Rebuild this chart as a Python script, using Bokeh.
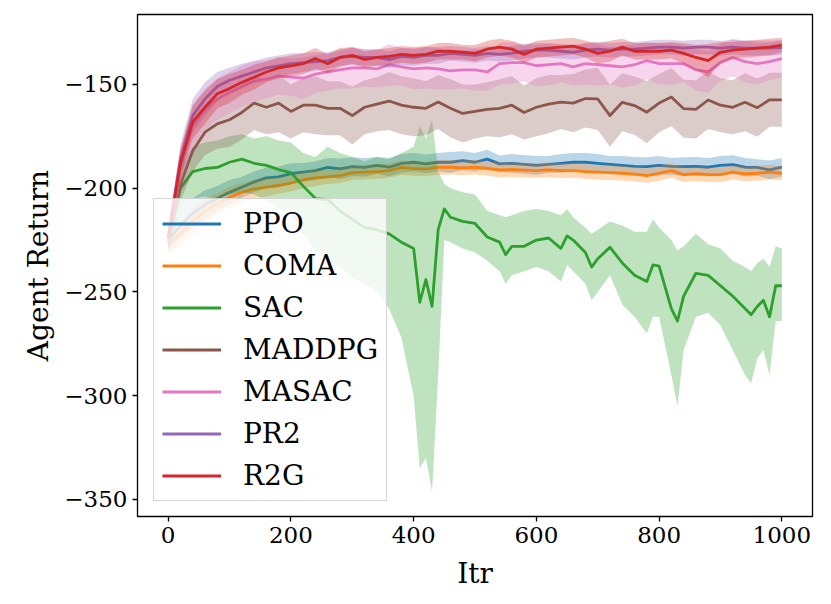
from bokeh.plotting import figure
from bokeh.models import Legend, LegendItem, FixedTicker, Range1d
from bokeh.embed import file_html
from bokeh.resources import INLINE

# ---------------- data ----------------
itr = [0, 20, 40, 60, 80, 100, 120, 140, 160, 180, 200, 220, 240, 260, 280, 300,
       320, 340, 360, 380, 400, 420, 440, 460, 480, 500, 520, 540, 560, 580, 600,
       620, 640, 660, 680, 700, 720, 740, 760, 780, 800, 820, 840, 860, 880, 900,
       920, 940, 960, 980, 1000]

ppo_mean = [-225, -218, -212, -208, -205, -202, -199.5, -197, -195, -194.5, -193,
            -192.3, -191.5, -190, -190.7, -189.6, -190, -189, -189.9, -188, -187.5,
            -188.3, -187.5, -187.5, -186.7, -187.5, -186, -188.3, -188, -188.5, -189,
            -188.5, -188, -187.5, -187.5, -188, -188.5, -189, -189.5, -189.6, -189,
            -189.5, -189.6, -189.5, -189.9, -189, -188.6, -189.9, -190, -191.2, -189.9]
ppo_std = [5, 6, 7, 7, 6, 6, 5, 5, 5, 5, 5, 4.5, 4.5, 4.5, 5, 4.5, 4.5, 4, 4.5, 4.5,
           4.5, 4.5, 4.5, 5, 4.5, 4.5, 4.5, 4, 4.5, 4.5, 4.5, 4, 4.5, 4.5, 4.5, 4.5,
           4, 4.5, 4.5, 4.5, 4.5, 4, 4.5, 4.5, 4.5, 4.5, 4.5, 4.5, 4, 4.5, 4.5]

coma_mean = [-227, -222, -216, -211, -207.4, -204.3, -202, -200.3, -199.5, -198.7,
             -197.5, -196, -195, -194.5, -194, -192.5, -192.3, -192, -191.5, -190,
             -190.5, -190.7, -190, -189.9, -190.2, -189.9, -190.5, -191.2, -191, -191.3,
             -191.5, -191.2, -191.5, -191.5, -192, -192.3, -192.5, -192.8, -193.2, -193.9,
             -192.8, -191.5, -193.5, -193, -193.5, -193.5, -192.3, -193.1, -192.8, -192.3,
             -192.8]
coma_std = [5, 6, 6, 6, 5, 5, 4.5, 4.5, 4.5, 4, 4, 4, 4, 3.5, 3.5, 3.5, 3.5, 3.5, 3.5,
            3.5, 3.5, 3.5, 3.5, 3.5, 3.5, 3.5, 3.5, 3.5, 3.5, 3.5, 3.5, 3.5, 3.5, 3.5,
            3.5, 3.5, 3.5, 3.5, 3.5, 3.5, 3.5, 3.5, 3.5, 3.5, 3.5, 3.5, 3.5, 3.5, 3.5,
            3.5, 3.5]

sac_itr = [0, 10, 20, 40, 60, 80, 100, 120, 140, 160, 180, 200, 220, 240, 260, 280,
           300, 320, 340, 360, 380, 400, 410, 420, 430, 440, 450, 460, 480, 500, 520,
           540, 550, 560, 580, 600, 620, 640, 650, 660, 680, 690, 700, 720, 740, 760,
           780, 790, 800, 820, 830, 840, 860, 880, 900, 920, 940, 950, 960, 970, 980,
           990, 1000]
sac_mean = [-225, -212, -200, -192, -190.5, -190, -187.5, -186, -188, -189, -191,
            -192.5, -199, -205, -205.5, -211, -215, -219, -220, -222, -226, -229,
            -255, -244, -257, -220, -210, -214, -216, -217, -223.5, -226, -232, -228,
            -228, -225, -224, -229, -223, -225, -231, -238, -234, -228.5, -236, -242,
            -245, -237, -237.5, -258, -264, -252, -241, -242, -247, -252, -258, -261,
            -257, -254, -262, -247, -247]
sac_hi = [-220, -205, -190, -180, -178, -177, -175, -174, -176, -175, -177, -178,
          -183, -185, -180, -183, -185, -187, -185, -186, -183, -180, -170, -176,
          -167, -192, -198, -200, -202, -203, -211, -213, -214, -213, -211, -210,
          -211, -213, -210, -214, -219, -222, -220, -216, -218, -221, -221, -215,
          -219, -225, -230, -228, -222, -227, -229, -235, -238, -240, -236, -234,
          -238, -228, -229]
sac_lo = [-230, -220, -212, -205, -204, -205, -203, -202, -203, -206, -210, -213,
          -222, -230, -235, -238, -243, -246, -250, -258, -272, -300, -335, -330,
          -346, -290, -225, -226, -229, -231, -235, -240, -246, -242, -240, -238,
          -240, -245, -237, -240, -246, -254, -250, -242, -256, -262, -270, -262,
          -262, -290, -305, -278, -262, -260, -266, -278, -290, -294, -282, -278,
          -290, -264, -264]

maddpg_mean = [-226, -198, -182, -173, -169, -167, -163.5, -159, -161, -159, -163,
               -160, -160, -161.5, -161.5, -165, -161, -159.5, -158, -160, -161,
               -161.5, -158.5, -161.5, -164, -163, -162, -161.5, -160, -163.5, -161,
               -159.5, -158.5, -159, -156.8, -157, -165, -158.6, -160.2, -163.4, -159,
               -156.1, -161.7, -162, -157.5, -160, -161, -158.6, -161.2, -157.4, -157.4]
maddpg_std = [5, 8, 10, 11, 12, 13, 13, 13, 13, 14, 13, 13, 14, 13, 13, 14, 13, 13,
              14, 14, 14, 13, 13, 14, 14, 13, 13, 14, 14, 13, 14, 14, 13, 14, 14, 15,
              15, 14, 14, 15, 14, 14, 14, 14, 14, 13, 13, 14, 14, 13, 13]

masac_mean = [-226, -190, -170, -162, -157, -154, -151, -148.5, -147.5, -146, -146.5,
              -147, -145, -144, -143, -142, -142, -142.5, -140.5, -141.5, -142.5, -142,
              -142.5, -143.5, -143, -143, -144, -140, -139.5, -139.5, -141, -140.5, -140,
              -141.5, -140, -140.5, -141, -141.5, -140.5, -138.5, -140, -140, -140, -143,
              -144, -139.5, -137, -139, -140, -139, -137.6]
masac_std = [5, 8, 10, 10, 10, 10, 10, 10, 9, 9, 9, 10, 9, 9, 9, 10, 9, 9, 10, 9, 10,
             10, 10, 9, 9, 10, 9, 10, 10, 9, 10, 10, 9, 9, 10, 10, 9, 10, 10, 9, 10,
             10, 9, 10, 10, 9, 9, 10, 10, 9, 9]

pr2_mean = [-224, -186, -165, -157, -151, -148, -146, -144, -142, -141, -140, -139.5,
            -139, -138.5, -137, -136.5, -137, -137, -138, -136.5, -137, -136, -136,
            -135, -135.5, -136, -135, -135.5, -135, -134, -133.5, -133.5, -134, -134.5,
            -133.5, -133, -133.5, -133, -133, -132.5, -132, -132, -132.5, -132, -132,
            -132.5, -132, -132.5, -132.5, -132.5, -132.3]
pr2_std = [5, 7, 8, 8, 7, 6, 6, 5, 5, 5, 5, 4.5, 4.5, 4, 4, 4, 4, 4, 4, 4, 4, 4, 4,
           3.5, 3.5, 3.5, 3.5, 3.5, 3.5, 3.5, 3.5, 3.5, 3.5, 3.5, 3.5, 3.5, 3.5, 3.5,
           3.5, 3.5, 3.5, 3.5, 3.5, 3.5, 3.5, 3.5, 3.5, 3.5, 3.5, 3.5, 3.5]

r2g_mean = [-224, -188, -168, -161, -154.5, -152, -149, -146.5, -144, -142, -141,
            -140, -137.5, -140, -137, -136, -138, -137, -136.5, -135.5, -136, -135.5,
            -134, -134, -134.5, -135, -133, -132, -133, -135.5, -133, -132.5, -132,
            -131.5, -133, -135, -134, -132, -134, -134, -134, -133.5, -135, -137,
            -138.5, -134.5, -133.5, -133, -132.5, -132, -131]
r2g_std = [5, 7, 8, 8, 7, 7, 6, 6, 5, 5, 5, 5, 5, 4.5, 4.5, 4, 4, 4, 4, 4, 4, 4, 4, 4,
           3.5, 4, 4, 4, 4, 4, 4, 4, 4, 4, 4, 5, 5, 4, 4, 4, 4, 4, 5, 6, 8, 5, 4, 4,
           4, 4, 3.5]

x_ticks = [0, 200, 400, 600, 800, 1000]
x_tick_labels = ["0", "200", "400", "600", "800", "1000"]
y_ticks = [-350, -300, -250, -200, -150]
y_tick_labels = ["\u2212350", "\u2212300", "\u2212250", "\u2212200", "\u2212150"]

# ---------------- figure ----------------
FONT = "DejaVu Serif"
p = figure(width=831, height=604, output_backend="svg", toolbar_location=None,
           x_range=Range1d(-50, 1050), y_range=Range1d(-358.2, -116.3),
           min_border_left=137, min_border_right=19, min_border_top=14,
           min_border_bottom=88)
p.grid.visible = False
p.outline_line_color = "black"
p.outline_line_width = 1.3
p.outline_line_alpha = 1.0
p.background_fill_color = "white"
p.border_fill_color = "white"

series = [
    ("PPO", itr, ppo_mean, [m - s for m, s in zip(ppo_mean, ppo_std)],
     [m + s for m, s in zip(ppo_mean, ppo_std)], "#1f77b4"),
    ("COMA", itr, coma_mean, [m - s for m, s in zip(coma_mean, coma_std)],
     [m + s for m, s in zip(coma_mean, coma_std)], "#ff7f0e"),
    ("SAC", sac_itr, sac_mean, sac_lo, sac_hi, "#2ca02c"),
    ("MADDPG", itr, maddpg_mean, [m - s for m, s in zip(maddpg_mean, maddpg_std)],
     [m + s for m, s in zip(maddpg_mean, maddpg_std)], "#8c564b"),
    ("MASAC", itr, masac_mean, [m - s for m, s in zip(masac_mean, masac_std)],
     [m + s for m, s in zip(masac_mean, masac_std)], "#e377c2"),
    ("PR2", itr, pr2_mean, [m - s for m, s in zip(pr2_mean, pr2_std)],
     [m + s for m, s in zip(pr2_mean, pr2_std)], "#9467bd"),
    ("R2G", itr, r2g_mean, [m - s for m, s in zip(r2g_mean, r2g_std)],
     [m + s for m, s in zip(r2g_mean, r2g_std)], "#d62728"),
]

items = []
for name, xs, mean, lo, hi, col in series:
    p.varea(x=xs, y1=lo, y2=hi, fill_color=col, fill_alpha=0.3)
    r = p.line(xs, mean, line_color=col, line_width=2.8, line_join="round")
    items.append(LegendItem(label=name, renderers=[r]))

legend = Legend(items=items, location=(16, 15))
legend.label_text_font = FONT
legend.label_text_font_size = "28px"
legend.label_text_color = "black"
legend.glyph_width = 59
legend.glyph_height = 31
legend.label_height = 31
legend.label_standoff = 22
legend.spacing = 9
legend.padding = 8
legend.margin = 0
legend.background_fill_color = "white"
legend.background_fill_alpha = 0.8
legend.border_line_color = "#cccccc"
legend.border_line_alpha = 0.8
legend.border_line_width = 1.3
p.add_layout(legend, "center")

for ax in (p.xaxis[0], p.yaxis[0]):
    ax.axis_line_color = None
    ax.major_tick_line_color = "black"
    ax.major_tick_line_width = 1.3
    ax.major_tick_out = 5
    ax.major_tick_in = 0
    ax.minor_tick_line_color = None
    ax.major_label_text_font = FONT
    ax.major_label_text_font_size = "23px"
    ax.major_label_text_color = "black"
    ax.axis_label_text_font = FONT
    ax.axis_label_text_font_size = "28px"
    ax.axis_label_text_font_style = "normal"
    ax.axis_label_text_color = "black"

p.xaxis.ticker = FixedTicker(ticks=x_ticks)
p.yaxis.ticker = FixedTicker(ticks=y_ticks)
p.xaxis.major_label_overrides = dict(zip(x_ticks, x_tick_labels))
p.yaxis.major_label_overrides = dict(zip(y_ticks, y_tick_labels))
p.xaxis.axis_label = "Itr"
p.yaxis.axis_label = "Agent Return"
p.xaxis.major_label_standoff = 5
p.yaxis.major_label_standoff = 5
p.xaxis.axis_label_standoff = 11
p.yaxis.axis_label_standoff = 6

open("out.html", "w").write(file_html(p, INLINE))
